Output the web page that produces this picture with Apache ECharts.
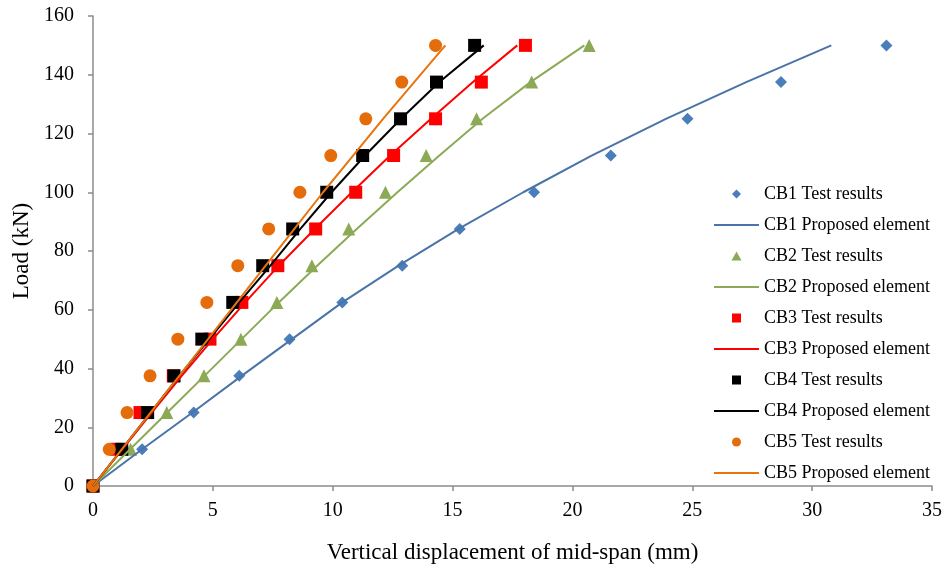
<!DOCTYPE html>
<html>
<head>
<meta charset="utf-8">
<script src="https://cdn.jsdelivr.net/npm/echarts@6/dist/echarts.min.js"></script>
<style>html,body{margin:0;padding:0;background:#fff}#c{width:945px;height:572px}</style>
</head>
<body>
<div id="c"></div>
<script>
// Load levels (kN)
const loads = [0, 12.5, 25, 37.5, 50, 62.5, 75, 87.5, 100, 112.5, 125, 137.5, 150];
// Test results: mid-span displacement (mm)
const cb1Test = [0, 2.05, 4.2, 6.1, 8.2, 10.4, 12.9, 15.3, 18.4, 21.6, 24.8, 28.7, 33.1];
const cb2Test = [0, 1.57, 3.08, 4.63, 6.17, 7.67, 9.13, 10.67, 12.2, 13.9, 16.0, 18.3, 20.7];
const cb3Test = [0, 0.96, 1.96, 3.35, 4.88, 6.21, 7.71, 9.29, 10.96, 12.54, 14.29, 16.2, 18.04];
const cb4Test = [0, 1.2, 2.28, 3.38, 4.54, 5.83, 7.08, 8.33, 9.75, 11.25, 12.83, 14.33, 15.92];
const cb5Test = [0, 0.68, 1.42, 2.38, 3.54, 4.75, 6.04, 7.33, 8.63, 9.92, 11.38, 12.88, 14.29];
// Proposed element: mid-span displacement (mm)
const cb1Model = [0, 2.05, 4.15, 6.2, 8.3, 10.4, 12.75, 15.25, 17.95, 20.8, 23.9, 27.25, 30.8];
const cb2Model = [0, 1.55, 3.1, 4.65, 6.2, 7.75, 9.35, 11.0, 12.7, 14.45, 16.25, 18.25, 20.5];
const cb3Model = [0, 1.22, 2.45, 3.7, 5.0, 6.35, 7.75, 9.25, 10.8, 12.4, 14.1, 15.85, 17.7];
const cb4Model = [0, 1.2, 2.4, 3.6, 4.85, 6.1, 7.4, 8.65, 9.95, 11.35, 12.85, 14.45, 16.3];
const cb5Model = [0, 1.2, 2.4, 3.6, 4.8, 6.0, 7.2, 8.4, 9.6, 10.85, 12.1, 13.4, 14.7];

const names = ['CB1', 'CB2', 'CB3', 'CB4', 'CB5'];
const tests = [cb1Test, cb2Test, cb3Test, cb4Test, cb5Test];
const models = [cb1Model, cb2Model, cb3Model, cb4Model, cb5Model];
const markerColors = ['#4A7EBB', '#8CAA55', '#FF0000', '#000000', '#E46C0A'];
const lineColors = ['#4A73A8', '#8CAA55', '#FF0000', '#000000', '#E8740F'];
const symbols = ['diamond', 'triangle', 'rect', 'rect', 'circle'];
const symbolSizes = [12, 13, 13, 13, 13];
const legendIcons = [
  'path://M5,0L10,5L5,10L0,5Z',
  'path://M5,0L10,9L0,9Z',
  'path://M0,0L10,0L10,10L0,10Z',
  'path://M0,0L10,0L10,10L0,10Z',
  'circle'
];
const lineIcon = 'path://M0,0L45,0L45,2L0,2Z';

const pair = (xs) => xs.map((x, i) => [x, loads[i]]);
const series = [];
const legendData = [];
names.forEach((n, k) => {
  series.push({
    name: n + ' Test results', type: 'scatter', data: pair(tests[k]),
    symbol: symbols[k], symbolSize: symbolSizes[k],
    itemStyle: { color: markerColors[k], opacity: 1 }
  });
  legendData.push({ name: n + ' Test results', icon: legendIcons[k], itemStyle: { color: markerColors[k] } });
  series.push({
    name: n + ' Proposed element', type: 'line', data: pair(models[k]),
    showSymbol: false, symbol: 'none', smooth: false,
    lineStyle: { color: lineColors[k], width: 2 }, itemStyle: { color: lineColors[k] }
  });
  legendData.push({ name: n + ' Proposed element', icon: lineIcon, itemStyle: { color: lineColors[k] } });
});

const font = '"Liberation Serif", "Times New Roman", serif';
const axisLine = { show: true, lineStyle: { color: '#8C8C8C', width: 1.5 } };
const chart = echarts.init(document.getElementById('c'));
chart.setOption({
  animation: false,
  textStyle: { fontFamily: font },
  grid: { left: 93, right: 12, top: 16, bottom: 86 },
  legend: {
    orient: 'vertical', left: 714, top: 185, padding: 0,
    itemWidth: 45, itemHeight: 9, itemGap: 13, symbolKeepAspect: true,
    textStyle: { fontFamily: font, fontSize: 18, color: '#000' },
    data: legendData
  },
  xAxis: {
    type: 'value', min: 0, max: 35, interval: 5,
    name: 'Vertical displacement of mid-span (mm)', nameLocation: 'middle', nameGap: 55,
    nameTextStyle: { fontFamily: font, fontSize: 23, color: '#000' },
    axisLine: axisLine, axisTick: { show: true, length: 5, lineStyle: { color: '#8C8C8C', width: 1.5 } },
    axisLabel: { fontFamily: font, fontSize: 20, color: '#000', margin: 15 },
    splitLine: { show: false }
  },
  yAxis: {
    type: 'value', min: 0, max: 160, interval: 20,
    name: 'Load (kN)', nameLocation: 'middle', nameGap: 59, nameRotate: 90,
    nameTextStyle: { fontFamily: font, fontSize: 23, color: '#000' },
    axisLine: axisLine, axisTick: { show: true, length: 5, lineStyle: { color: '#8C8C8C', width: 1.5 } },
    axisLabel: { fontFamily: font, fontSize: 20, color: '#000', margin: 19 },
    splitLine: { show: false }
  },
  series: series
});
</script>
</body>
</html>
